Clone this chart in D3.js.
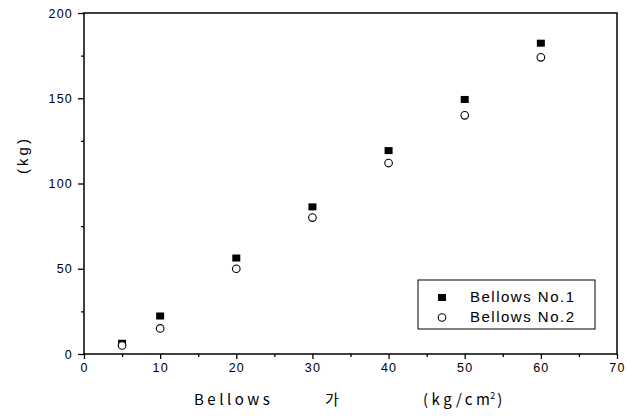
<!DOCTYPE html>
<html><head><meta charset="utf-8">
<script src="https://cdn.jsdelivr.net/npm/d3@7"></script>
<style>body{margin:0;background:#fff}svg{display:block}</style>
</head><body>
<svg id="c" width="627" height="419"></svg>
<script>
const pressures = [5, 10, 20, 30, 40, 50, 60];
const bellows1 = [6, 22, 56, 86, 119, 149, 182];
const bellows2 = [5, 15, 50, 80, 112, 140, 174];
const seriesNames = ["Bellows No.1", "Bellows No.2"];
const xTicks = [0, 10, 20, 30, 40, 50, 60, 70];
const yTicks = [0, 50, 100, 150, 200];

const svg = d3.select("#c");
const L = 84, T = 13, R = 617, B = 354;
const x = d3.scaleLinear().domain([0, 70]).range([L, R]);
const y = d3.scaleLinear().domain([0, 200]).range([B, T]);
const font = "'Liberation Sans', Arial, sans-serif";

// frame
svg.append("rect").attr("x", L).attr("y", T).attr("width", R - L).attr("height", B - T)
  .attr("fill", "none").attr("stroke", "#000").attr("stroke-width", 1.5);

// axes
const xa = svg.append("g").attr("transform", `translate(0,${B})`)
  .call(d3.axisBottom(x).tickValues(xTicks).tickSize(5).tickPadding(4).tickFormat(d3.format("d")));
const xm = svg.append("g").attr("transform", `translate(0,${B})`)
  .call(d3.axisBottom(x).tickValues(d3.range(5, 70, 10)).tickSize(3).tickFormat(""));
const ya = svg.append("g").attr("transform", `translate(${L},0)`)
  .call(d3.axisLeft(y).tickValues(yTicks).tickSize(6).tickPadding(5).tickFormat(d3.format("d")));
const ym = svg.append("g").attr("transform", `translate(${L},0)`)
  .call(d3.axisLeft(y).tickValues([25, 75, 125, 175]).tickSize(3).tickFormat(""));
[xa, xm, ya, ym].forEach(g => {
  g.select(".domain").remove();
  g.selectAll("line").attr("stroke", "#000").attr("stroke-width", 1.3);
  g.selectAll("text").attr("font-family", font).attr("font-size", 12.5).attr("fill", "#000")
    .attr("letter-spacing", "1.2px");
});

// data points
svg.append("g").selectAll("rect").data(pressures).join("rect")
  .attr("x", (d) => x(d) - 4).attr("y", (d, i) => y(bellows1[i]) - 4)
  .attr("width", 8).attr("height", 7).attr("fill", "#000");
svg.append("g").selectAll("circle").data(pressures).join("circle")
  .attr("cx", d => x(d)).attr("cy", (d, i) => y(bellows2[i]))
  .attr("r", 3.8).attr("fill", "#fff").attr("stroke", "#000").attr("stroke-width", 1.1);

// legend
const lg = svg.append("g");
lg.append("rect").attr("x", 418).attr("y", 280).attr("width", 177).attr("height", 49)
  .attr("fill", "#fff").attr("stroke", "#000").attr("stroke-width", 1);
lg.append("rect").attr("x", 438).attr("y", 294).attr("width", 8).attr("height", 7).attr("fill", "#000");
lg.append("circle").attr("cx", 442).attr("cy", 317.5).attr("r", 3.8)
  .attr("fill", "#fff").attr("stroke", "#000").attr("stroke-width", 1.1);
lg.selectAll("text.l").data(seriesNames).join("text").attr("class", "l")
  .attr("x", 470).attr("y", (d, i) => 302 + i * 20)
  .attr("font-family", font).attr("font-size", 15).attr("letter-spacing", "1.5px").text(d => d);

// axis titles
const tf = "'Noto Sans CJK KR', 'DejaVu Sans', sans-serif";
const xt = svg.append("text").attr("y", 405).attr("font-family", tf).attr("font-size", 15);
xt.append("tspan").attr("x", 194).attr("letter-spacing", "3.5px").text("Bellows");
xt.append("tspan").attr("x", 325).text("가");
xt.append("tspan").attr("x", 423).attr("letter-spacing", "3.5px").text("(kg/c");
xt.append("tspan").attr("letter-spacing", "0px").text("m");
xt.append("tspan").attr("font-size", 9).attr("dy", -6).attr("dx", 0.5).text("2");
xt.append("tspan").attr("dy", 6).attr("dx", 2).text(")");

svg.append("text").attr("transform", "translate(28,155) rotate(-90)")
  .attr("text-anchor", "middle").attr("font-family", font).attr("font-size", 15)
  .attr("letter-spacing", "3px").text("(kg)");
</script>
</body></html>
